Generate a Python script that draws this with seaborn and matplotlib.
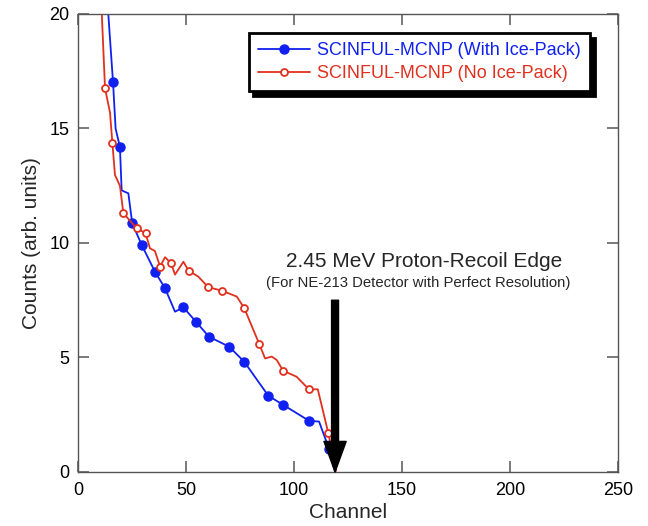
import matplotlib
matplotlib.use("Agg")
import matplotlib.pyplot as plt
import seaborn as sns

# ---- data ----
blue_x = [13.2, 16.2, 17.4, 19.4, 20.2, 22.5, 23.3, 25.1, 29.5, 35.6, 40.3, 44.9,
          48.8, 54.6, 60.6, 70.0, 76.9, 88.1, 95.0, 106.9, 111.6, 116.3, 119.0]
blue_y = [21.1, 17.03, 15.0, 14.19, 12.3, 12.2, 12.17, 10.86, 9.91, 8.75, 8.02, 7.0,
          7.19, 6.56, 5.91, 5.47, 4.82, 3.33, 2.93, 2.24, 2.2, 0.99, 0.0]
blue_marks = [1, 3, 7, 8, 9, 10, 12, 13, 14, 15, 16, 17, 18, 19, 21]

red_x = [10.0, 12.5, 14.8, 15.9, 17.1, 19.4, 21.0, 27.2, 31.3, 33.3, 35.6, 38.0,
         40.3, 43.1, 44.9, 48.8, 51.2, 55.7, 60.3, 66.5, 73.5, 77.0, 81.2, 83.9,
         86.6, 89.7, 92.0, 95.0, 101.2, 106.9, 111.0, 115.9, 119.5]
red_y = [22.2, 16.76, 15.7, 14.38, 12.97, 12.5, 11.3, 10.64, 10.42, 9.77, 9.65, 8.97,
         9.38, 9.11, 8.62, 9.18, 8.79, 8.53, 8.07, 7.92, 7.66, 7.15, 6.2, 5.59,
         4.96, 5.04, 4.89, 4.42, 4.16, 3.61, 3.61, 1.69, 0.05]
red_marks = [1, 3, 6, 7, 8, 11, 13, 16, 18, 19, 21, 23, 27, 29, 31]

label_blue = "SCINFUL-MCNP (With Ice-Pack)"
label_red = "SCINFUL-MCNP (No Ice-Pack)"
x_ticks = [0, 50, 100, 150, 200, 250]
y_ticks = [0, 5, 10, 15, 20]
edge_channel = 119
arrow_top = 7.5

# ---- style ----
sns.set_theme(style="white")
plt.rcParams["font.family"] = ["Liberation Sans", "DejaVu Sans"]
plt.rcParams.update({
    "xtick.bottom": True, "xtick.top": True,
    "ytick.left": True, "ytick.right": True,
    "xtick.direction": "in", "ytick.direction": "in",
})

BLUE = "#1020f0"
RED = "#e0301e"
AX_C = "#555555"

fig = plt.figure(figsize=(6.48, 5.26), dpi=100)
ax = fig.add_axes([0.1204, 0.1027, 0.8333, 0.8707])

sns.lineplot(x=blue_x, y=blue_y, ax=ax, color=BLUE, lw=1.3, marker="o",
             markersize=6.5, markerfacecolor=BLUE, markeredgecolor=BLUE,
             markeredgewidth=1, markevery=blue_marks, sort=False,
             estimator=None, label=label_blue)
sns.lineplot(x=red_x, y=red_y, ax=ax, color=RED, lw=1.3, marker="o",
             markersize=5, markerfacecolor="white", markeredgecolor=RED,
             markeredgewidth=1.3, markevery=red_marks, sort=False,
             estimator=None, label=label_red)

ax.set_xlim(0, 250)
ax.set_ylim(0, 20)
ax.set_xticks(x_ticks)
ax.set_yticks(y_ticks)
ax.tick_params(direction="in", top=True, right=True, bottom=True, left=True,
               length=8, width=1.1, color=AX_C, labelsize=13,
               labelcolor="black")
ax.tick_params(axis="x", pad=7)
ax.tick_params(axis="y", pad=6)
for s in ax.spines.values():
    s.set_color(AX_C)
    s.set_linewidth(1)
    s.set_visible(True)

ax.set_xlabel("Channel", fontsize=15, labelpad=3)
ax.set_ylabel("Counts (arb. units)", fontsize=15, labelpad=6)

# arrow and annotation
ax.annotate("", xy=(edge_channel, 0), xytext=(edge_channel, arrow_top),
            arrowprops=dict(facecolor="black", edgecolor="black", width=5,
                            headwidth=16, headlength=22, shrink=0))
ax.text(160.2, 9.17, "2.45 MeV Proton-Recoil Edge", ha="center", va="center",
        fontsize=15)
ax.text(157.4, 8.25, "(For NE-213 Detector with Perfect Resolution)",
        ha="center", va="center", fontsize=10.7)

leg = ax.legend(loc="upper right", bbox_to_anchor=(0.948, 0.958),
                fontsize=13, frameon=True, fancybox=False, edgecolor="black",
                framealpha=1,
                shadow={"ox": 3.5, "oy": -3.5, "color": "black", "alpha": 1},
                labelcolor="linecolor", handlelength=2.9, borderaxespad=0,
                borderpad=0.5, labelspacing=0.32, handletextpad=0.4)
leg.get_frame().set_linewidth(2)

fig.savefig("out.png", dpi=100)
